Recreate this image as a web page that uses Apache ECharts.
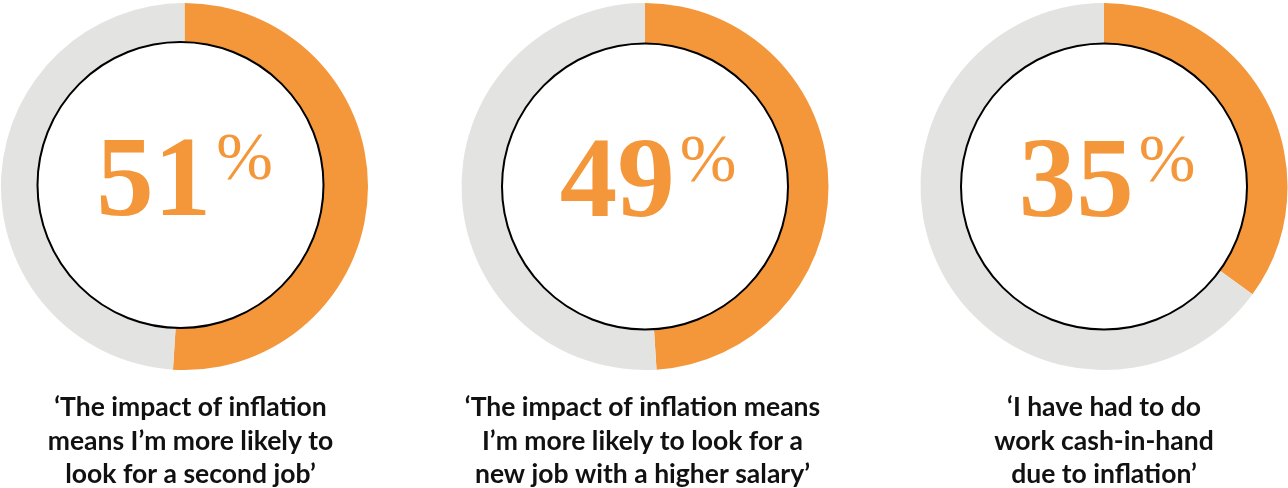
<!DOCTYPE html>
<html>
<head>
<meta charset="utf-8">
<style>
  html, body { margin: 0; padding: 0; background: #ffffff; }
  #chart { width: 1288px; height: 488px; }
</style>
<script src="https://cdn.jsdelivr.net/npm/echarts@6/dist/echarts.min.js"></script>
</head>
<body>
<div id="chart"></div>
<script>
// Survey answers: share of respondents agreeing with each statement (%)
const statements = [
  '‘The impact of inflation\nmeans I’m more likely to\nlook for a second job’',
  '‘The impact of inflation means\nI’m more likely to look for a\nnew job with a higher salary’',
  '‘I have had to do\nwork cash-in-hand\ndue to inflation’'
];
const agreeShares = [51, 49, 35];

// Layout for each ring: centre of the ring, centre of the white disc, caption centre
const ringCentres = [[184.5, 186.5], [645, 186.5], [1104, 186.5]];
const discCentres = [[180.5, 185], [645, 186.5], [1104, 186.5]];
const captionX = [190.5, 642.5, 1104];

const ORANGE = '#F4973A';
const GREY = '#E3E3E1';

const chart = echarts.init(document.getElementById('chart'), null, { renderer: 'canvas' });

const series = [];
agreeShares.forEach((share, i) => {
  // Orange/grey ring
  series.push({
    type: 'pie',
    center: ringCentres[i],
    radius: [120, 183.5],
    startAngle: 90,
    clockwise: true,
    silent: true,
    animation: false,
    label: { show: false },
    labelLine: { show: false },
    data: [
      { value: share, itemStyle: { color: ORANGE } },
      { value: 100 - share, itemStyle: { color: GREY } }
    ]
  });
  // White disc with thin black outline, carrying the percentage
  series.push({
    type: 'pie',
    center: discCentres[i],
    radius: [0, 143],
    silent: true,
    animation: false,
    z: 3,
    itemStyle: { color: '#ffffff', borderColor: '#000000', borderWidth: 2 },
    labelLine: { show: false },
    label: {
      show: true,
      position: 'center',
      offset: [i === 0 ? 4 : 3, 0],
      formatter: () => '{num|' + share + '}{pct|%}',
      rich: {
        num: {
          fontFamily: 'Liberation Serif',
          fontWeight: 'bold',
          fontSize: 115,
          lineHeight: 115,
          color: ORANGE,
          verticalAlign: 'bottom'
        },
        pct: {
          fontFamily: 'Liberation Serif',
          fontWeight: 'normal',
          fontSize: 68,
          lineHeight: 115,
          color: ORANGE,
          verticalAlign: 'top',
          padding: [0, 0, 0, 5]
        }
      }
    },
    data: [{ value: 1 }]
  });
});

const graphics = statements.map((txt, i) => ({
  type: 'text',
  x: captionX[i],
  y: 391,
  silent: true,
  style: {
    text: txt,
    align: 'center',
    verticalAlign: 'top',
    fontFamily: 'Lato',
    fontWeight: 'bold',
    fontSize: 26.5,
    lineHeight: 33.5,
    fill: '#111111'
  }
}));

chart.setOption({
  backgroundColor: '#ffffff',
  animation: false,
  series: series,
  graphic: graphics
});
</script>
</body>
</html>
